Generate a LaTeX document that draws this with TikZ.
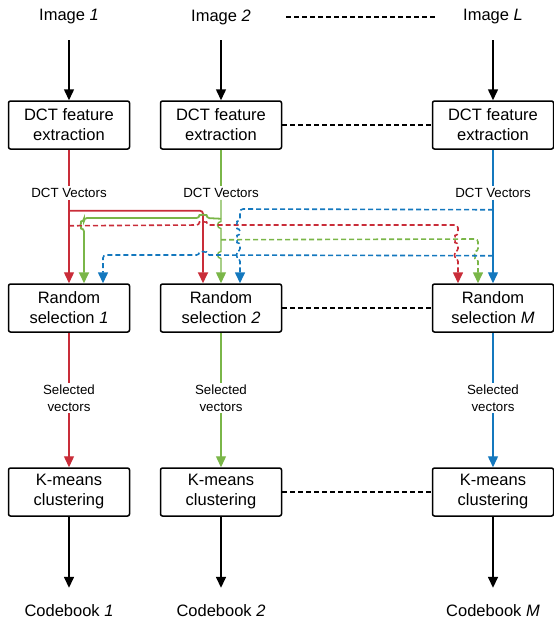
\documentclass[tikz,border=0pt]{standalone}
\usepackage{fontspec}
\setmainfont{Liberation Sans}
\usetikzlibrary{arrows.meta}
\definecolor{cred}{HTML}{C92D39}
\definecolor{cgreen}{HTML}{7AB648}
\definecolor{cblue}{HTML}{1478BE}
\begin{document}
\begin{tikzpicture}[
    x=1pt, y=1pt,
    box/.style={
        rectangle,
        rounded corners=2pt,
        minimum width=121pt,
        minimum height=48pt,
        inner sep=0pt,
        draw=black,
        line width=1.5pt,
        font=\fontsize{16.5}{20}\selectfont,
        align=center
    },
    lbl/.style={
        inner sep=0pt,
        minimum height=46pt,
        font=\fontsize{16.5}{20}\selectfont
    },
    vlab/.style={
        inner sep=2pt,
        font=\fontsize{13.3}{16.7}\selectfont,
        align=center
    },
    tip/.style={-{Triangle[length=11pt,width=10pt]}},
    flow/.style={tip, line width=1.5pt, black},
    trunk/.style={line width=1.4pt},
    branch/.style={line width=1.8pt, rounded corners=3pt},
    link/.style={line width=1.6pt, dash pattern=on 5pt off 3pt, rounded corners=3pt},
    sep/.style={line width=1.3pt, dash pattern=on 5pt off 3pt}
]
\useasboundingbox (0,0) rectangle (554,-624);

\node[lbl] (i1) at (69,-17) {Image \textit{1}};
\node[lbl] (i2) at (221,-17) {Image \textit{2}};
\node[lbl] (iL) at (493,-17) {Image \textit{L}};

\node[box] (d1) at (69,-125) {DCT feature\\extraction};
\node[box] (d2) at (221,-125) {DCT feature\\extraction};
\node[box] (d3) at (493,-125) {DCT feature\\extraction};

\node[vlab] (v1) at (69,-193) {DCT Vectors};
\node[vlab] (v2) at (221,-193) {DCT Vectors};
\node[vlab] (v3) at (493,-193) {DCT Vectors};

\node[box] (r1) at (69,-308) {Random\\selection \textit{1}};
\node[box] (r2) at (221,-308) {Random\\selection \textit{2}};
\node[box] (r3) at (493,-308) {Random\\selection \textit{M}};

\node[vlab] (s1) at (69,-398) {Selected\\vectors};
\node[vlab] (s2) at (221,-398) {Selected\\vectors};
\node[vlab] (s3) at (493,-398) {Selected\\vectors};

\node[box] (k1) at (69,-492) {K-means\\clustering};
\node[box] (k2) at (221,-492) {K-means\\clustering};
\node[box] (k3) at (493,-492) {K-means\\clustering};

\node[lbl] (c1) at (69,-611) {Codebook \textit{1}};
\node[lbl] (c2) at (221,-611) {Codebook \textit{2}};
\node[lbl] (c3) at (493,-611) {Codebook \textit{M}};

% inputs and outputs
\draw[flow] (i1) -- (d1);
\draw[flow] (i2) -- (d2);
\draw[flow] (iL) -- (d3);
\draw[flow] (k1) -- (c1);
\draw[flow] (k2) -- (c2);
\draw[flow] (k3) -- (c3);

\draw[sep] ([xshift=35pt]i2.east) -- ([xshift=-28pt]iL.west);
\draw[sep] (d2) -- (d3);
\draw[sep] (r2) -- (r3);
\draw[sep] (k2) -- (k3);

% DCT vectors down to the random selections
\draw[trunk, cred] (d1) -- (v1);
\draw[trunk, cred, tip] (v1) -- (r1);
\draw[trunk, cgreen] (d2) -- (v2);
\draw[trunk, cgreen, tip] (v2) -- (221,-221.5)
    arc[start angle=90, end angle=270, radius=3.5] -- (221,-251.5)
    arc[start angle=90, end angle=270, radius=3.5] -- (r2);
\draw[trunk, cblue] (d3) -- (v3);
\draw[trunk, cblue, tip] (v3) -- (r3);

\draw[branch, cred, tip] ([yshift=-61pt]d1.south) -| ([xshift=-18pt]r2.north);
\draw[branch, cgreen, tip] ([yshift=-69pt]d2.south) -- (206.5,-218)
    arc[start angle=0, end angle=180, radius=3.5] -- (84,-218) -- (84,-221.5)
    arc[start angle=90, end angle=270, radius=3.5] -- ([xshift=15pt]r1.north);

\draw[link, cred, tip] ([yshift=-76pt]d1.south) -- (199.5,-225)
    arc[start angle=180, end angle=0, radius=3.5] -- (458,-225) -- (458,-235.5)
    arc[start angle=90, end angle=270, radius=3.5] -- (458,-251.5)
    arc[start angle=90, end angle=270, radius=3.5] -- ([xshift=-35pt]r3.north);
\draw[link, cgreen, tip] ([yshift=-90pt]d2.south) -- (478,-239) -- (478,-251.5)
    arc[start angle=90, end angle=270, radius=3.5] -- ([xshift=-15pt]r3.north);
\draw[link, cblue, tip] ([yshift=-60pt]d3.south) -- (240,-209) -- (240,-221.5)
    arc[start angle=90, end angle=270, radius=3.5] -- (240,-235.5)
    arc[start angle=90, end angle=270, radius=3.5] -- (240,-251.5)
    arc[start angle=90, end angle=270, radius=3.5] -- ([xshift=19pt]r2.north);
\draw[link, cblue, tip] ([yshift=-106pt]d3.south) -- (206.5,-255)
    arc[start angle=0, end angle=180, radius=3.5] -- (103,-255) -- ([xshift=34pt]r1.north);

% selected vectors down to the clustering
\draw[trunk, cred] (r1) -- (s1);
\draw[trunk, cred, tip] (s1) -- (k1);
\draw[trunk, cgreen] (r2) -- (s2);
\draw[trunk, cgreen, tip] (s2) -- (k2);
\draw[trunk, cblue] (r3) -- (s3);
\draw[trunk, cblue, tip] (s3) -- (k3);

\end{tikzpicture}
\end{document}
